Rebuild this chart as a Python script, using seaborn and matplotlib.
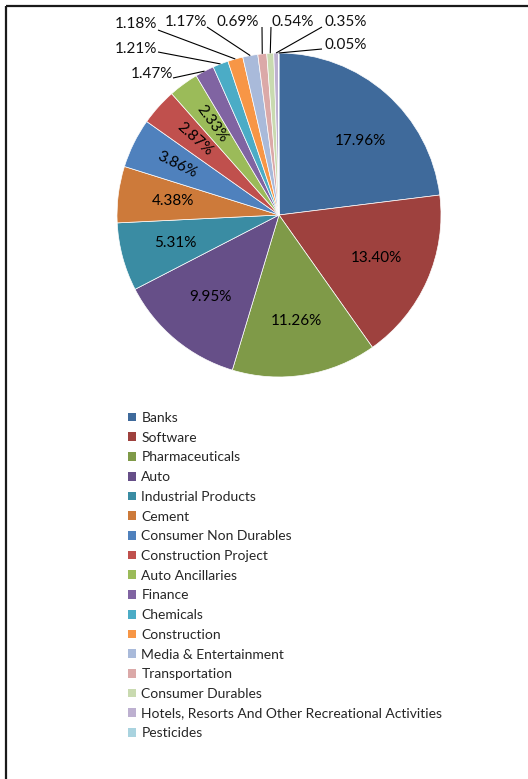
import matplotlib
matplotlib.use("Agg")
import matplotlib.pyplot as plt
import seaborn as sns
import numpy as np

# ---------------- data ----------------
sectors = ["Banks", "Software", "Pharmaceuticals", "Auto", "Industrial Products",
           "Cement", "Consumer Non Durables", "Construction Project",
           "Auto Ancillaries", "Finance", "Chemicals", "Construction",
           "Media & Entertainment", "Transportation", "Consumer Durables",
           "Hotels, Resorts And Other Recreational Activities", "Pesticides"]
shares = [17.96, 13.40, 11.26, 9.95, 5.31, 4.38, 3.86, 2.87, 2.33,
          1.47, 1.21, 1.18, 1.17, 0.69, 0.54, 0.35, 0.05]
colors = ["#3F6A9B", "#9E413E", "#7F9A48", "#664F88", "#3A8CA3", "#CD7A3A",
          "#4F81BD", "#C0504D", "#9BBB59", "#8064A2", "#4BACC6", "#F79646",
          "#A9BADA", "#DBA9A8", "#C9DAB0", "#BDB0D0", "#A9D3DF"]

# ---------------- style ----------------
sns.set_theme(style="white")
plt.rcParams['font.family'] = ['Lato', 'DejaVu Sans']

W, H = 528, 779
fig = plt.figure(figsize=(W / 100, H / 100), dpi=100)
fig.patch.set_facecolor("white")
ax = fig.add_axes([0, 0, 1, 1])

def P(x, y):
    """pixel (from top-left) -> data coords"""
    return x, H - y

cx, cy = P(279, 215)
R = 162
palette = sns.color_palette(colors)
wedges, _ = ax.pie(shares, colors=palette, startangle=90, counterclock=False,
                   center=(cx, cy), radius=R, normalize=True,
                   wedgeprops=dict(edgecolor="white", linewidth=0.5))
ax.set_xlim(0, W)
ax.set_ylim(0, H)
ax.set_aspect("equal")
ax.axis("off")

pct_fs = 11
n_inside = 9
rotated = {6, 7, 8}
for i, w in enumerate(wedges[:n_inside]):
    mid_deg = (w.theta1 + w.theta2) / 2
    if i == 0:
        mid_deg -= 6  # Excel best-fit nudge for the biggest slice
    mid = np.deg2rad(mid_deg)
    d = 0.70 if i in rotated else (0.68 if i == 0 else 0.66)
    x = cx + d * R * np.cos(mid)
    y = cy + d * R * np.sin(mid)
    rot = np.rad2deg(mid) - 180 if i in rotated else 0
    ax.text(x, y, f"{shares[i]:.2f}%", ha="center", va="center",
            fontsize=pct_fs, color="black", rotation=rot, rotation_mode="anchor")

# outside labels: text centres and leader-line starts (pixel layout)
out_text = [(152, 74), (136, 49), (136, 24), (186, 22), (238, 22),
            (293, 22), (346, 22), (346, 45)]
out_line = [(173, 78), (158, 52), (158, 30), (207, 27), (262, 27),
            (271, 27), (322, 27), (322, 49)]
for k, w in enumerate(wedges[n_inside:]):
    i = k + n_inside
    mid = np.deg2rad((w.theta1 + w.theta2) / 2)
    ex = cx + R * np.cos(mid)
    ey = cy + R * np.sin(mid)
    tx, ty = P(*out_text[k])
    lx, ly = P(*out_line[k])
    ax.plot([lx, ex], [ly, ey], color="black", lw=0.8, solid_capstyle="butt")
    ax.text(tx, ty, f"{shares[i]:.2f}%", ha="center", va="center",
            fontsize=pct_fs, color="#111111")

# legend
leg = ax.legend(wedges, sectors, loc="upper left",
                bbox_to_anchor=P(128, 412), bbox_transform=ax.transData,
                frameon=False, fontsize=10, handlelength=0.58, handleheight=0.58,
                handletextpad=0.38, labelspacing=0.555, borderpad=0,
                borderaxespad=0)
for h in leg.legend_handles:
    h.set_edgecolor("none")

# frame (top and left border)
ax.plot([6, W], [H - 6, H - 6], color="#1a1a1a", lw=1.6, solid_capstyle="butt")
ax.plot([6, 6], [H - 6, 0], color="#1a1a1a", lw=1.6, solid_capstyle="butt")

fig.savefig("out.png", dpi=100, facecolor="white")
